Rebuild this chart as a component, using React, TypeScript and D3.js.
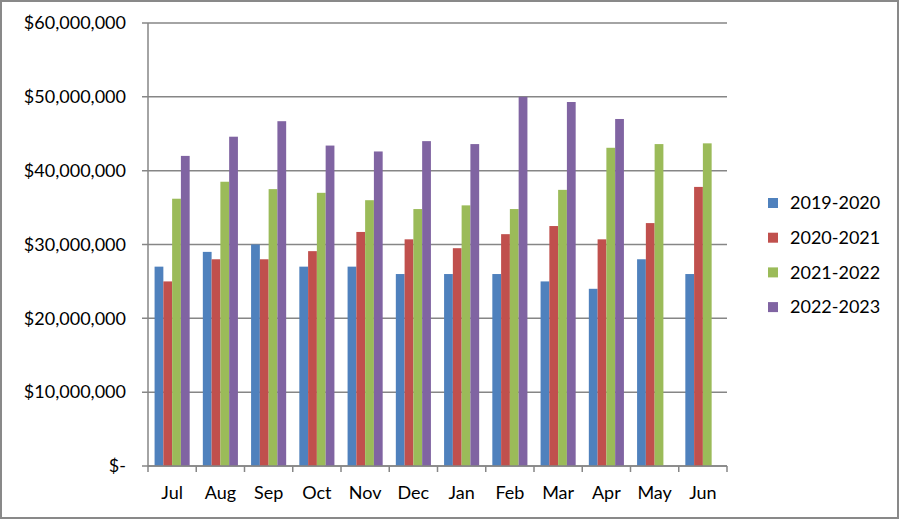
import React from "react";
import * as d3 from "d3";

const months = ["Jul", "Aug", "Sep", "Oct", "Nov", "Dec", "Jan", "Feb", "Mar", "Apr", "May", "Jun"];
const seriesNames = ["2019-2020", "2020-2021", "2021-2022", "2022-2023"];
const s2019: (number | null)[] = [27.0, 29.0, 30.0, 27.0, 27.0, 26.0, 26.0, 26.0, 25.0, 24.0, 28.0, 26.0];
const s2020: (number | null)[] = [25.0, 28.0, 28.0, 29.1, 31.7, 30.7, 29.5, 31.4, 32.5, 30.7, 32.9, 37.8];
const s2021: (number | null)[] = [36.2, 38.5, 37.5, 37.0, 36.0, 34.8, 35.3, 34.8, 37.4, 43.1, 43.6, 43.7];
const s2022: (number | null)[] = [42.0, 44.6, 46.7, 43.4, 42.6, 44.0, 43.6, 50.0, 49.3, 47.0, null, null];
const yTicks = [0, 10, 20, 30, 40, 50, 60];
const colors = ["#4F81BD", "#C0504D", "#9BBB59", "#8064A2"];

const allSeries = [s2019, s2020, s2021, s2022];

export default function App() {
  const W = 899, H = 519;
  const left = 148, right = 727, top = 23, bottom = 466;
  const font = "Lato, 'Open Sans', sans-serif";
  const y = d3.scaleLinear().domain([0, 60]).range([bottom, top]);
  const x = d3.scaleBand().domain(months).range([left, right]).paddingInner(0.75 / 2.75).paddingOuter(0.75 / 2.75 / 2);
  // Excel gap width 150%: band = 4 bars + 1.5 bar widths
  const step = (right - left) / months.length;
  const barW = step / 5.5;
  const fmt = (v: number) => (v === 0 ? "$-" : "$" + d3.format(",")(v * 1000000));
  const textColor = "#000";
  const grid = "#868686";

  return (
    <svg width={W} height={H} style={{ position: "absolute", left: 0, top: 0, display: "block" }}>
      <rect x={0} y={0} width={W} height={H} fill="#fff" />
      <rect x={1} y={1} width={W - 2} height={H - 2} fill="none" stroke="#898989" strokeWidth={2} />
      {yTicks.map((t) => (
        <g key={t}>
          <line x1={left - 6} x2={right} y1={y(t)} y2={y(t)} stroke={grid} strokeWidth={1.5} />
          <text x={126} y={y(t)} dy="0.35em" textAnchor="end" fontFamily={font} fontSize={18} fill={textColor}>
            {fmt(t)}
          </text>
        </g>
      ))}
      {allSeries.map((s, si) =>
        s.map((v, i) =>
          v == null ? null : (
            <rect
              key={si + "-" + i}
              x={left + i * step + 0.75 * barW + si * barW}
              y={y(v)}
              width={barW}
              height={bottom - y(v)}
              fill={colors[si]}
            />
          )
        )
      )}
      <line x1={left} x2={left} y1={top} y2={bottom} stroke={grid} strokeWidth={1.5} />
      <line x1={left} x2={right} y1={bottom} y2={bottom} stroke={grid} strokeWidth={1.5} />
      {d3.range(months.length + 1).map((i) => (
        <line key={i} x1={left + i * step} x2={left + i * step} y1={bottom} y2={bottom + 6} stroke={grid} strokeWidth={1.5} />
      ))}
      {months.map((m) => (
        <text key={m} x={(x(m) as number) + x.bandwidth() / 2} y={493} dy="0.35em" textAnchor="middle" fontFamily={font} fontSize={18} fill={textColor}>
          {m}
        </text>
      ))}
      {seriesNames.map((n, i) => (
        <g key={n} transform={`translate(768, ${203 + i * 34.7})`}>
          <rect x={0} y={-5} width={10} height={10} fill={colors[i]} />
          <text x={22} y={0} dy="0.35em" fontFamily={font} fontSize={18} fill={textColor}>
            {n}
          </text>
        </g>
      ))}
    </svg>
  );
}
